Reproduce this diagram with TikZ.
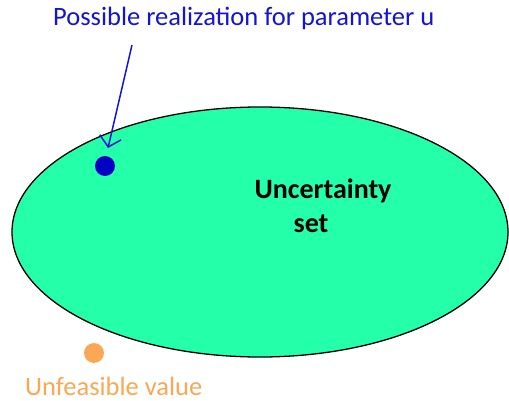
\documentclass[tikz,border=0pt]{standalone}
\usepackage{fontspec}
\setmainfont{Carlito}
\usetikzlibrary{arrows.meta,shapes.geometric}
\definecolor{setgreen}{RGB}{36,255,170}
\definecolor{dotblue}{RGB}{0,0,196}
\definecolor{txtblue}{RGB}{20,20,210}
\definecolor{orange1}{RGB}{250,168,85}
\tikzset{
  lbl/.style={inner sep=0pt, anchor=base west, font=\fontsize{26.5}{30}\selectfont},
  boldlbl/.style={inner sep=0pt, anchor=base, font=\bfseries\fontsize{28}{32}\selectfont},
  dot/.style={circle, inner sep=0pt, minimum size=20pt}
}
\begin{document}
\begin{tikzpicture}[x=1pt,y=-1pt]
\useasboundingbox (0,0) rectangle (509,401);
\fill[white] (0,0) rectangle (509,401);
\node[draw=black, line width=1.3pt, fill=setgreen, ellipse, minimum width=496pt, minimum height=250pt, inner sep=0pt] (set) at (260,232) {};
\node[boldlbl] (settxt1) at (323,199) {Uncertainty};
\node[boldlbl] (settxt2) at (311,232) {set};
\node[dot, fill=dotblue] (u) at (105,166) {};
\node[dot, fill=orange1] (inf) at (94,353) {};
\node[lbl, text=txtblue] (ulbl) at (53,26) {Possible realization for parameter u};
\node[lbl, text=orange1] (inflbl) at (25,395) {Unfeasible value};
\coordinate (astart) at (132,45);
\coordinate (atip) at (108,148);
\draw[txtblue, line width=1.5pt, -{Straight Barb[length=10pt, width=22pt, line width=1.5pt]}] (astart) -- (atip);
\end{tikzpicture}
\end{document}
